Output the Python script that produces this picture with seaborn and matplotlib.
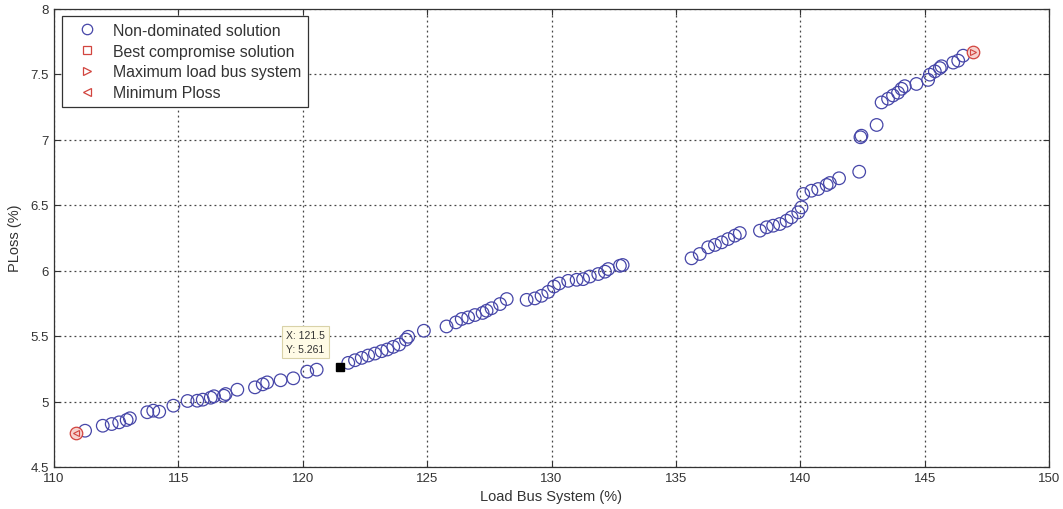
import matplotlib
matplotlib.use("Agg")
import matplotlib.pyplot as plt
from matplotlib.lines import Line2D
import seaborn as sns
import pandas as pd

# Pareto front: load bus system (%) vs power loss (%)
load_bus = [
    111.25, 111.96, 112.32, 112.62, 112.92, 113.05, 113.75, 113.99, 114.23, 114.80,
    115.37, 115.76, 115.98, 116.30, 116.43, 116.83, 116.90, 117.37, 118.08, 118.39,
    118.57, 119.11, 119.62, 120.18, 120.56,
    121.83, 122.10, 122.37, 122.63, 122.90, 123.17, 123.40, 123.64, 123.88, 124.15,
    124.24, 124.87, 125.78, 126.16, 126.39, 126.65, 126.92, 127.23, 127.39, 127.59,
    127.93, 128.20, 129.00, 129.33, 129.60, 129.87, 130.10, 130.31, 130.67, 131.01,
    131.27, 131.54, 131.88, 132.15, 132.28, 132.75, 132.86,
    135.63, 135.96, 136.30, 136.57, 136.84, 137.10, 137.37, 137.57, 138.38, 138.65,
    138.91, 139.18, 139.45, 139.65, 139.92, 140.05, 140.12, 140.45, 140.72, 141.06,
    141.19, 141.56, 142.37, 142.42, 142.46, 143.07, 143.27, 143.53, 143.73, 143.93,
    144.07, 144.20, 144.67, 145.14, 145.21, 145.41, 145.61, 145.68, 146.15, 146.35,
    146.55,
]
ploss = [
    4.777, 4.815, 4.828, 4.841, 4.859, 4.872, 4.918, 4.930, 4.922, 4.968,
    5.004, 5.006, 5.014, 5.029, 5.040, 5.044, 5.057, 5.090, 5.108, 5.131,
    5.146, 5.162, 5.177, 5.228, 5.243,
    5.295, 5.315, 5.333, 5.351, 5.366, 5.384, 5.397, 5.417, 5.435, 5.473,
    5.494, 5.540, 5.573, 5.604, 5.630, 5.642, 5.660, 5.676, 5.693, 5.712,
    5.744, 5.782, 5.776, 5.787, 5.807, 5.837, 5.878, 5.901, 5.921, 5.929,
    5.934, 5.954, 5.973, 5.991, 6.011, 6.036, 6.042,
    6.093, 6.126, 6.177, 6.195, 6.215, 6.240, 6.266, 6.286, 6.304, 6.330,
    6.342, 6.355, 6.380, 6.406, 6.444, 6.482, 6.584, 6.609, 6.622, 6.653,
    6.668, 6.704, 6.754, 7.017, 7.029, 7.111, 7.283, 7.311, 7.336, 7.357,
    7.387, 7.407, 7.424, 7.455, 7.495, 7.520, 7.545, 7.559, 7.587, 7.602,
    7.640,
]

best_load, best_ploss = 121.5, 5.261
max_load_point = (146.95, 7.666)
min_ploss_point = (110.88, 4.757)

x_ticks = [110, 115, 120, 125, 130, 135, 140, 145, 150]
y_ticks = [4.5, 5, 5.5, 6, 6.5, 7, 7.5, 8]

blue = "#4646a8"
red = "#d2453f"

sns.set_style("ticks")
plt.rcParams["font.family"] = ["Liberation Sans", "DejaVu Sans"]

fig = plt.figure(figsize=(10.63, 5.10), dpi=100)
ax = fig.add_axes([54 / 1063, 42 / 510, 995 / 1063, 458.5 / 510])

df = pd.DataFrame({"load": load_bus, "ploss": ploss})
sns.scatterplot(data=df, x="load", y="ploss", ax=ax, marker="o", s=82,
                facecolor="none", edgecolor=blue, linewidth=0.9, zorder=3)

# endpoints of the front
for (px, py), mk in [(max_load_point, ">"), (min_ploss_point, "<")]:
    ax.plot(px, py, marker="o", ms=9, mfc="#f6d2ce", mec=red, mew=0.9, ls="none", zorder=4)
    ax.plot(px, py, marker=mk, ms=4.5, mfc="none", mec=red, mew=0.8, ls="none", zorder=4)

# best compromise point with its data tip
ax.plot(best_load, best_ploss, marker="s", ms=5.5, color="black", ls="none", zorder=5)
ax.annotate(f"X: {best_load}\nY: {best_ploss}", xy=(best_load, best_ploss),
            xytext=(-54, 13), textcoords="offset pixels", ha="left", va="bottom",
            fontsize=7.5, color="#333333", linespacing=1.5,
            bbox=dict(boxstyle="square,pad=0.4", fc="#fffbe6", ec="#d9d2a8", lw=0.8),
            zorder=6)

ax.set_xlim(110, 150)
ax.set_ylim(4.5, 8)
ax.set_xticks(x_ticks)
ax.set_xticklabels([str(v) for v in x_ticks])
ax.set_yticks(y_ticks)
ax.set_yticklabels(["4.5", "5", "5.5", "6", "6.5", "7", "7.5", "8"])
ax.grid(True, linestyle=(0, (1.5, 2.5)), color="#444444", linewidth=0.9)
ax.tick_params(direction="in", length=4, top=True, right=True, labelsize=9.5,
               colors="#333333", width=0.8)
for sp in ax.spines.values():
    sp.set_color("#333333")
    sp.set_linewidth(0.9)

ax.set_xlabel("Load Bus System (%)", fontsize=10.5, color="#333333", labelpad=4)
ax.set_ylabel("PLoss (%)", fontsize=10.5, color="#333333", labelpad=6)

handles = [
    Line2D([], [], ls="none", marker="o", ms=7.5, mfc="none", mec=blue, mew=0.9),
    Line2D([], [], ls="none", marker="s", ms=5.5, mfc="none", mec=red, mew=0.9),
    Line2D([], [], ls="none", marker=">", ms=5.5, mfc="none", mec=red, mew=0.9),
    Line2D([], [], ls="none", marker="<", ms=5.5, mfc="none", mec=red, mew=0.9),
]
labels = ["Non-dominated solution", "Best compromise solution",
          "Maximum load bus system", "Minimum Ploss"]
leg = ax.legend(handles, labels, loc="upper left", bbox_to_anchor=(0.0077, 0.984),
                borderaxespad=0, fontsize=11.4, frameon=True, fancybox=False,
                edgecolor="#333333", framealpha=1, labelspacing=0.36,
                handletextpad=0.5, borderpad=0.45, handlelength=2.3)
leg.get_frame().set_linewidth(0.9)
for t in leg.get_texts():
    t.set_color("#333333")

fig.savefig("out.png", dpi=100)
